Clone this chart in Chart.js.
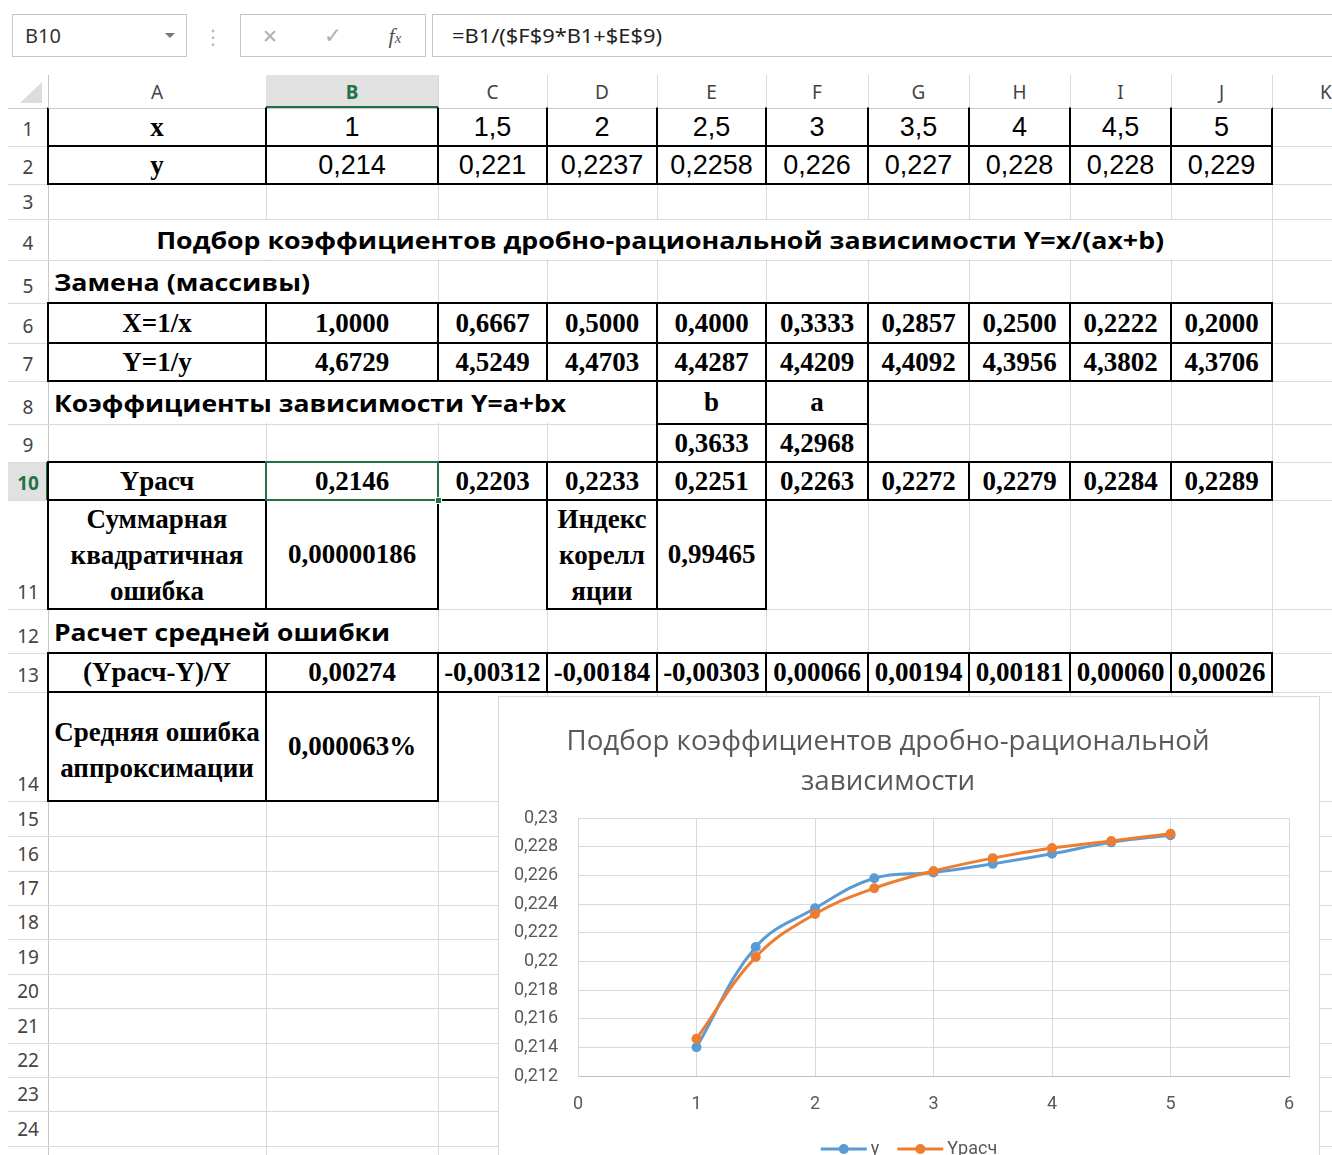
<!DOCTYPE html>
<html>
<head>
<meta charset="utf-8">
<script src="https://cdn.jsdelivr.net/npm/chart.js@4.4.1/dist/chart.umd.min.js"></script>
<style>
    body { margin: 0; width: 1332px; height: 1155px; overflow: hidden; background: #fff; position: relative; }
    .abs { position: absolute; box-sizing: border-box; }
    .gline { background: #dadada; }
    .hline { background: #c8c8c8; }
    .white { background: #fff; }
    .frame { border: 2px solid #000; }
    .cell { display: flex; align-items: center; justify-content: center; color: #000; }
    .cell span { display: inline-block; white-space: nowrap; transform-origin: center center; }
    .cell.left { justify-content: flex-start; padding-left: 6px; }
    .cell.left span { transform-origin: left center; }
    .serif { font: bold 27px "Liberation Serif", "Times New Roman", serif; }
    .arial { font: 27px "Liberation Sans", Arial, sans-serif; }
    .head { font: bold 24px "Open Sans", sans-serif; }
    .multi span { line-height: 36px; text-align: center; }
    .rowhead { display: flex; align-items: flex-end; justify-content: center; font: 19px "Noto Sans", sans-serif; line-height: 20px; color: #444; padding-bottom: 7px; }
    .colhead { display: flex; align-items: center; justify-content: center; font: 19px "Noto Sans", sans-serif; color: #444; }
    .sel { background: #e1e1e1; color: #217346; font-weight: bold; }
    .ui { border: 1px solid #c6c6c6; background: #fff; }
    #chartBox { position: absolute; left: 498px; top: 696px; width: 822px; height: 480px; border: 1px solid #d9d9d9; background: #fff; box-sizing: border-box; }
    #fitChart { position: absolute; left: 0; top: 0; }
</style>
</head>
<body>
<div id="sheet"></div>
<div id="chartBox"><canvas id="fitChart" width="820" height="478"></canvas></div>

<script>
// chart data
const xValues = [1, 1.5, 2, 2.5, 3, 3.5, 4, 4.5, 5];
const yMeasured = [0.214, 0.221, 0.2237, 0.2258, 0.2262, 0.2268, 0.2275, 0.2283, 0.2288];
const yCalc = [0.2146, 0.2203, 0.2233, 0.2251, 0.2263, 0.2272, 0.2279, 0.2284, 0.2289];
const seriesNames = ["y", "Yрасч"];
const chartTitle = ["Подбор коэффициентов дробно-рациональной", "зависимости"];
const xRange = [0, 6];
const yRange = [0.212, 0.23];
const yStep = 0.002;

// sheet texts
const colLetters = ["A", "B", "C", "D", "E", "F", "G", "H", "I", "J", "K"];
const rowX = ["1", "1,5", "2", "2,5", "3", "3,5", "4", "4,5", "5"];
const rowY = ["0,214", "0,221", "0,2237", "0,2258", "0,226", "0,227", "0,228", "0,228", "0,229"];
const rowXinv = ["1,0000", "0,6667", "0,5000", "0,4000", "0,3333", "0,2857", "0,2500", "0,2222", "0,2000"];
const rowYinv = ["4,6729", "4,5249", "4,4703", "4,4287", "4,4209", "4,4092", "4,3956", "4,3802", "4,3706"];
const rowYcalc = ["0,2146", "0,2203", "0,2233", "0,2251", "0,2263", "0,2272", "0,2279", "0,2284", "0,2289"];
const rowRelErr = ["0,00274", "-0,00312", "-0,00184", "-0,00303", "0,00066", "0,00194", "0,00181", "0,00060", "0,00026"];

const COLS = [48, 266, 438, 547, 657, 766, 868, 969, 1070, 1171, 1272, 1380];
const ROWS = [108, 146, 184, 219, 260, 303, 343, 381, 424, 462, 500, 609, 653, 692, 801, 836, 871, 905, 939, 974, 1008, 1043, 1077, 1111, 1146, 1180];

const sheet = document.getElementById("sheet");

function box(left, top, width, height, cls, html) {
    const d = document.createElement("div");
    d.className = "abs " + (cls || "");
    d.style.left = left + "px";
    d.style.top = top + "px";
    d.style.width = width + "px";
    d.style.height = height + "px";
    if (html != null) d.innerHTML = html;
    sheet.appendChild(d);
    return d;
}

function rect(c0, c1, r0, r1) {
    return [COLS[c0], ROWS[r0 - 1], COLS[c1 + 1] - COLS[c0], ROWS[r1] - ROWS[r0 - 1]];
}

function frame(c, r, noTop) {
    const [l, t, w, h] = rect(c, c, r, r);
    const d = box(l - 1, t - 1, w + 2, h + 2, "frame");
    if (noTop) d.style.borderTopColor = "transparent";
}

function txt(c0, c1, r, html, cls, fitW) {
    const [l, t, w, h] = rect(c0, c1, r, r);
    const d = box(l, t, w, h, "cell " + cls);
    const s = document.createElement("span");
    s.innerHTML = html;
    if (fitW) s.dataset.w = fitW;
    d.appendChild(s);
    return d;
}

// formula bar
box(12, 14, 175, 43, "ui");
box(25, 14, 80, 43, "cell left", '<span style="font:20px \'Noto Sans\';color:#333">B10</span>').style.paddingLeft = "0";
const tri = box(165, 33, 0, 0, "");
tri.style.borderLeft = "5px solid transparent";
tri.style.borderRight = "5px solid transparent";
tri.style.borderTop = "5px solid #777";
box(203, 22, 20, 30, "cell", '<span style="font:20px \'DejaVu Sans\';color:#b5b5b5">⋮</span>');
box(240, 14, 186, 43, "ui");
box(255, 14, 30, 43, "cell", '<span style="font:19px \'DejaVu Sans\';color:#b0b0b0">✕</span>');
box(318, 14, 30, 43, "cell", '<span style="font:22px \'DejaVu Sans\';color:#b0b0b0">✓</span>');
box(380, 14, 30, 43, "cell", '<span style="font:italic 22px \'Liberation Serif\';color:#555">f<span style="font-size:15px">x</span></span>');
box(432, 14, 910, 43, "ui");
box(452, 14, 400, 43, "cell left", '<span data-w="210" style="font:20px \'Noto Sans\';color:#222">=B1/($F$9*B1+$E$9)</span>').style.paddingLeft = "0";

// grid lines
for (let i = 0; i < COLS.length; i++) box(COLS[i], 75, 1, 1155 - 75, i === 0 ? "hline" : "gline");
for (let r = 0; r < ROWS.length; r++) box(8, ROWS[r], 1332 - 8, 1, r === 0 ? "hline" : "gline");

// text overflow hides inner gridlines
box(49, 220, 1222, 39, "white");
box(49, 261, 388, 41, "white");
box(49, 382, 607, 41, "white");
box(49, 610, 388, 42, "white");

// column headers
box(266, 75, 172, 33, "sel");
for (let i = 0; i < colLetters.length; i++) {
    const d = box(COLS[i], 75, COLS[i + 1] - COLS[i], 33, "colhead" + (i === 1 ? " sel" : ""), colLetters[i]);
    if (i === 1) d.style.background = "transparent";
}
box(266, 106, 172, 2, "").style.background = "#217346";
const corner = box(20, 82, 22, 21, "");
corner.style.background = "#dcdcdc";
corner.style.clipPath = "polygon(100% 0, 100% 100%, 0 100%)";

// row headers
for (let r = 1; r <= 24; r++) {
    const d = box(8, ROWS[r - 1] + 1, 40, ROWS[r] - ROWS[r - 1] - 1, "rowhead" + (r === 10 ? " sel" : ""), String(r));
}
box(46, 462, 2, 38, "").style.background = "#217346";

// borders
for (let c = 0; c <= 9; c++) {
    frame(c, 1, true);
    frame(c, 2);
    frame(c, 6);
    frame(c, 7);
    frame(c, 10);
    frame(c, 13);
}
frame(4, 8); frame(5, 8); frame(4, 9); frame(5, 9);
frame(0, 11); frame(1, 11); frame(3, 11); frame(4, 11);
frame(0, 14); frame(1, 14);

// cell texts
txt(0, 0, 1, "x", "serif");
txt(0, 0, 2, "y", "serif");
txt(0, 0, 6, "X=1/x", "serif");
txt(0, 0, 7, "Y=1/y", "serif");
txt(0, 0, 10, "Yрасч", "serif");
txt(0, 0, 13, "(Yрасч-Y)/Y", "serif");
for (let i = 0; i < 9; i++) {
    txt(i + 1, i + 1, 1, rowX[i], "arial");
    txt(i + 1, i + 1, 2, rowY[i], "arial");
    txt(i + 1, i + 1, 6, rowXinv[i], "serif");
    txt(i + 1, i + 1, 7, rowYinv[i], "serif");
    txt(i + 1, i + 1, 10, rowYcalc[i], "serif");
    txt(i + 1, i + 1, 13, rowRelErr[i], "serif");
}
txt(0, 9, 4, "Подбор коэффициентов дробно-рациональной зависимости Y=x/(ax+b)", "head", 1008);
txt(0, 0, 5, "Замена (массивы)", "head left", 256);
txt(0, 0, 8, "Коэффициенты зависимости Y=a+bx", "head left", 512);
txt(4, 4, 8, "b", "serif");
txt(5, 5, 8, "a", "serif");
txt(4, 4, 9, "0,3633", "serif");
txt(5, 5, 9, "4,2968", "serif");
txt(0, 0, 11, "Суммарная<br>квадратичная<br>ошибка", "serif multi");
txt(1, 1, 11, "0,00000186", "serif");
txt(3, 3, 11, "Индекс<br>корелл<br>яции", "serif multi");
txt(4, 4, 11, "0,99465", "serif");
txt(0, 0, 12, "Расчет средней ошибки", "head left", 336);
txt(0, 0, 14, "Средняя ошибка<br>аппроксимации", "serif multi").style.paddingTop = "6px";
txt(1, 1, 14, "0,000063%", "serif");

// selected cell B10
const selBox = box(265, 461, 174, 40, "");
selBox.style.border = "2px solid #217346";
const handle = box(435, 497, 7, 7, "");
handle.style.background = "#217346";
handle.style.border = "1px solid #fff";

function fitTexts() {
    document.querySelectorAll("[data-w]").forEach((el) => {
        el.style.transform = "none";
        const w = el.getBoundingClientRect().width;
        if (w > 0) el.style.transform = "scaleX(" + (Number(el.dataset.w) / w).toFixed(4) + ")";
    });
}
fitTexts();
if (document.fonts && document.fonts.ready) document.fonts.ready.then(fitTexts);

// chart
function commaLabel(v) {
    return String(Number(Number(v).toFixed(3))).replace(".", ",");
}

const titlePlugin = {
    id: "excelTitle",
    afterDraw(chart) {
        const ctx = chart.ctx;
        ctx.save();
        ctx.font = "28px 'Open Sans'";
        ctx.fillStyle = "#595959";
        ctx.textAlign = "center";
        ctx.textBaseline = "middle";
        const sx = 643 / ctx.measureText(chartTitle[0]).width;
        ctx.translate(389, 0);
        ctx.scale(sx, 1);
        chartTitle.forEach((line, i) => {
            ctx.fillText(line, 0, 45 + i * 40);
        });
        ctx.restore();
    }
};

const legendPlugin = {
    id: "lineLegend",
    afterDraw(chart) {
        const ctx = chart.ctx;
        ctx.save();
        ctx.font = "18px Roboto";
        ctx.textBaseline = "middle";
        const lineLen = 46;
        const gap = 4;
        const itemGap = 18;
        const items = chart.data.datasets.map((ds) => ({ ds, w: ctx.measureText(ds.label).width }));
        const total = items.reduce((s, it) => s + lineLen + gap + it.w, 0) + itemGap * (items.length - 1);
        let x = chart.width / 2 - total / 2;
        const y = 452;
        items.forEach((it) => {
            ctx.strokeStyle = it.ds.borderColor;
            ctx.lineWidth = 3;
            ctx.beginPath();
            ctx.moveTo(x, y);
            ctx.lineTo(x + lineLen, y);
            ctx.stroke();
            ctx.fillStyle = it.ds.borderColor;
            ctx.beginPath();
            ctx.arc(x + lineLen / 2, y, 5, 0, Math.PI * 2);
            ctx.fill();
            ctx.fillStyle = "#595959";
            ctx.fillText(it.ds.label, x + lineLen + gap, y);
            x += lineLen + gap + it.w + itemGap;
        });
        ctx.restore();
    }
};

const tickFont = { family: "Roboto", size: 18 };

new Chart(document.getElementById("fitChart"), {
    type: "line",
    data: {
        datasets: [
            {
                label: seriesNames[0],
                data: xValues.map((x, i) => ({ x, y: yMeasured[i] })),
                borderColor: "#5b9bd5",
                backgroundColor: "#5b9bd5",
                borderWidth: 3,
                pointRadius: 4,
                pointBorderWidth: 2,
                tension: 0.4,
                order: 2
            },
            {
                label: seriesNames[1],
                data: xValues.map((x, i) => ({ x, y: yCalc[i] })),
                borderColor: "#ed7d31",
                backgroundColor: "#ed7d31",
                borderWidth: 3,
                pointRadius: 4,
                pointBorderWidth: 2,
                tension: 0.4,
                order: 1
            }
        ]
    },
    options: {
        responsive: false,
        animation: false,
        devicePixelRatio: 1,
        layout: { padding: { left: 0, top: 121, right: 30, bottom: 59 } },
        plugins: {
            legend: { display: false },
            tooltip: { enabled: false },
            title: { display: false }
        },
        scales: {
            x: {
                type: "linear",
                min: xRange[0],
                max: xRange[1],
                ticks: { stepSize: 1, padding: 18, color: "#595959", font: tickFont, callback: commaLabel },
                grid: { color: "#d9d9d9", drawTicks: false },
                border: { color: "#bfbfbf" },
                afterFit: (scale) => { scale.height = 40; }
            },
            y: {
                min: yRange[0],
                max: yRange[1],
                ticks: { stepSize: yStep, padding: 20, color: "#595959", font: tickFont, callback: commaLabel },
                grid: { color: "#d9d9d9", drawTicks: false },
                border: { color: "#d9d9d9" },
                afterFit: (scale) => { scale.width = 79; }
            }
        }
    },
    plugins: [titlePlugin, legendPlugin]
});
</script>
</body>
</html>
